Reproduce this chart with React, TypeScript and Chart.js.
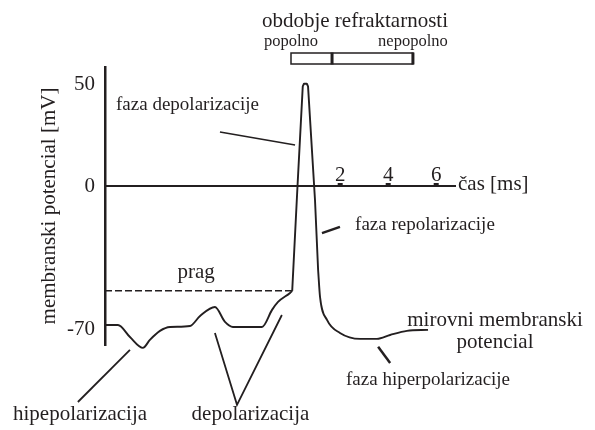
import React, { useEffect, useRef } from "react";
import { Chart, registerables } from "chart.js";

Chart.register(...registerables);

// ---- data ----
const timeMs = [
  -7.8, -7.26, -6.76, -6.22, -5.93, -5.51, -5.09, -4.26, -3.84, -3.22, -2.8, -2.47,
  -1.26, -0.84, -0.59, -0.09, 0, 0.22, 0.44, 0.49, 0.61, 0.66, 0.95, 1.08, 1.16, 1.45,
  1.99, 2.83, 3.53, 4.08, 4.78, 5.66,
];
const potentialMv = [
  -67.8, -67.8, -73.7, -79.0, -75.1, -70.7, -68.8, -68.3, -63.4, -59.0, -66.3, -68.8,
  -68.8, -60.4, -56.5, -52.1, -51.1, 0, 49.0, 50.3, 50.3, 49.0, -6.6, -40.9, -54.1, -65.3,
  -71.7, -74.6, -74.6, -72.7, -70.7, -70.2,
];
// index ranges of the trace: smooth pre-spike, straight spike, smooth tail
const spikeFirstIdx = 16;
const spikeLastIdx = 23;

const thresholdMv = -51.1;
const thresholdSpanMs = [-7.8, 0];
const xTickValues = [2, 4, 6];
const yTickValues = [-70, 0, 50];
const refractoryBoundsMs = [-0.05, 1.66, 5.03]; // start, absolute|relative, end
const refractoryLabels = ["popolno", "nepopolno"];
const refractoryTitle = "obdobje refraktarnosti";
const xAxisTitle = "čas [ms]";
const yAxisTitle = "membranski potencial [mV]";
const thresholdLabel = "prag";

const INK = "#231f20";
const SERIF = '"Liberation Serif", "Times New Roman", serif';

type Callout = {
  lines: string[];
  t: number;
  v: number;
  size: number;
  align: CanvasTextAlign;
  pointer: number[][];
  lw: number;
};

const callouts: Callout[] = [
  { lines: ["faza depolarizacije"], t: -7.34, v: 37.5, size: 19, align: "left", pointer: [[-3.01, 26.7], [0.12, 20.3]], lw: 1.5 },
  { lines: ["faza repolarizacije"], t: 2.62, v: -21.3, size: 19, align: "left", pointer: [[1.24, -22.8], [1.99, -19.8]], lw: 2.5 },
  { lines: ["mirovni membranski", "potencial"], t: 8.45, v: -68.3, size: 21, align: "center", pointer: [], lw: 0 },
  { lines: ["faza hiperpolarizacije"], t: 5.66, v: -97.2, size: 19, align: "center", pointer: [[3.58, -78.5], [4.08, -86.4]], lw: 2.5 },
  { lines: ["hipepolarizacija"], t: -8.84, v: -114.3, size: 21, align: "center", pointer: [[-6.76, -80.0], [-8.93, -105.5]], lw: 1.8 },
  { lines: ["depolarizacija"], t: -1.74, v: -114.3, size: 21, align: "center", pointer: [[-3.22, -71.7], [-2.3, -106.9], [-0.43, -62.9]], lw: 1.8 },
];

const annotationPlugin = {
  id: "annotations",
  afterDraw(chart: any) {
    const { ctx, chartArea } = chart;
    const xs = chart.scales.x;
    const ys = chart.scales.y;
    const px = (t: number) => xs.getPixelForValue(t);
    const py = (v: number) => ys.getPixelForValue(v);
    ctx.save();
    ctx.fillStyle = INK;
    ctx.strokeStyle = INK;
    ctx.lineCap = "butt";

    // small tick marks on the time axis
    xTickValues.forEach((t) => ctx.fillRect(px(t) - 2.5, py(0) - 3.5, 5, 3));

    // time axis title
    ctx.font = `21px ${SERIF}`;
    ctx.textAlign = "left";
    ctx.textBaseline = "middle";
    ctx.fillText(xAxisTitle, xs.right + 3, py(0) - 2);

    // threshold label
    ctx.textAlign = "center";
    ctx.textBaseline = "alphabetic";
    ctx.fillText(thresholdLabel, px(-4.0), py(thresholdMv) - 13);

    // refractory period bar
    const [r0, r1, r2] = refractoryBoundsMs;
    const barTop = chartArea.top - 14;
    const barH = 11;
    ctx.lineWidth = 1.5;
    ctx.strokeRect(px(r0), barTop, px(r2) - px(r0), barH);
    ctx.lineWidth = 3;
    [r1, r2].forEach((r) => {
      ctx.beginPath();
      ctx.moveTo(px(r), barTop - 0.5);
      ctx.lineTo(px(r), barTop + barH + 0.5);
      ctx.stroke();
    });
    ctx.font = `21px ${SERIF}`;
    ctx.fillText(refractoryTitle, (px(r0) + px(r2)) / 2 + 3, chartArea.top - 40);
    ctx.font = `16.5px ${SERIF}`;
    ctx.fillText(refractoryLabels[0], px(r0), chartArea.top - 21);
    ctx.fillText(refractoryLabels[1], px(r2), chartArea.top - 21);

    // callouts
    callouts.forEach((c) => {
      ctx.font = `${c.size}px ${SERIF}`;
      ctx.textAlign = c.align;
      ctx.textBaseline = "alphabetic";
      c.lines.forEach((ln, i) => ctx.fillText(ln, px(c.t), py(c.v) + i * 22));
      if (c.pointer.length) {
        ctx.lineWidth = c.lw;
        ctx.beginPath();
        c.pointer.forEach(([t, v], i) => (i ? ctx.lineTo(px(t), py(v)) : ctx.moveTo(px(t), py(v))));
        ctx.stroke();
      }
    });
    ctx.restore();
  },
};

const pts = (a: number, b: number) =>
  timeMs.slice(a, b).map((t, i) => ({ x: t, y: potentialMv[a + i] }));

export default function App() {
  const ref = useRef<HTMLCanvasElement>(null);
  useEffect(() => {
    const canvas = ref.current;
    if (!canvas) return;
    const tickFont = { family: SERIF, size: 21, lineHeight: 1.2 };
    const traceStyle = {
      borderColor: INK,
      borderWidth: 1.9,
      pointRadius: 0,
      fill: false,
      clip: false,
      borderJoinStyle: "round",
    };
    const chart = new Chart(canvas, {
      type: "line",
      data: {
        datasets: [
          { ...traceStyle, data: pts(0, spikeFirstIdx + 1), cubicInterpolationMode: "monotone" } as any,
          { ...traceStyle, data: pts(spikeFirstIdx, spikeLastIdx + 1), tension: 0 } as any,
          { ...traceStyle, data: pts(spikeLastIdx, timeMs.length), cubicInterpolationMode: "monotone" } as any,
          {
            data: thresholdSpanMs.map((t) => ({ x: t, y: thresholdMv })),
            borderColor: INK,
            borderWidth: 1.5,
            borderDash: [7, 3],
            pointRadius: 0,
            fill: false,
            clip: false,
          } as any,
        ],
      },
      options: {
        responsive: false,
        animation: false,
        devicePixelRatio: 1,
        events: [],
        layout: { padding: { left: 0, right: 140, top: 67, bottom: 85 } },
        plugins: { legend: { display: false }, tooltip: { enabled: false } },
        scales: {
          x: {
            type: "linear",
            min: -7.8,
            max: 6.7833,
            position: { y: 0 } as any,
            grid: { display: false, drawTicks: false },
            border: { display: true, color: INK, width: 2 },
            ticks: { padding: -24, font: tickFont, color: INK, maxRotation: 0, autoSkip: false },
            afterBuildTicks: (s: any) => {
              s.ticks = xTickValues.map((v) => ({ value: v }));
            },
          },
          y: {
            type: "linear",
            min: -77.6,
            max: 58.5,
            position: "left",
            grid: { display: false, drawTicks: false },
            border: { display: true, color: INK, width: 2.5 },
            ticks: { padding: 10, font: tickFont, color: INK, callback: (v: any) => String(v) },
            title: {
              display: true,
              text: yAxisTitle,
              color: INK,
              font: { family: SERIF, size: 21, lineHeight: 1.2 },
              padding: { top: 37, bottom: 0 },
            },
            afterBuildTicks: (s: any) => {
              s.ticks = yTickValues.map((v) => ({ value: v }));
            },
            afterFit: (s: any) => {
              s.width = 105;
            },
          },
        },
      } as any,
      plugins: [annotationPlugin],
    });
    return () => chart.destroy();
  }, []);
  return (
    <div style={{ position: "fixed", left: 0, top: 0, width: 595, height: 430, background: "#fff" }}>
      <canvas ref={ref} width={595} height={430} style={{ display: "block", width: 595, height: 430 }} />
    </div>
  );
}
